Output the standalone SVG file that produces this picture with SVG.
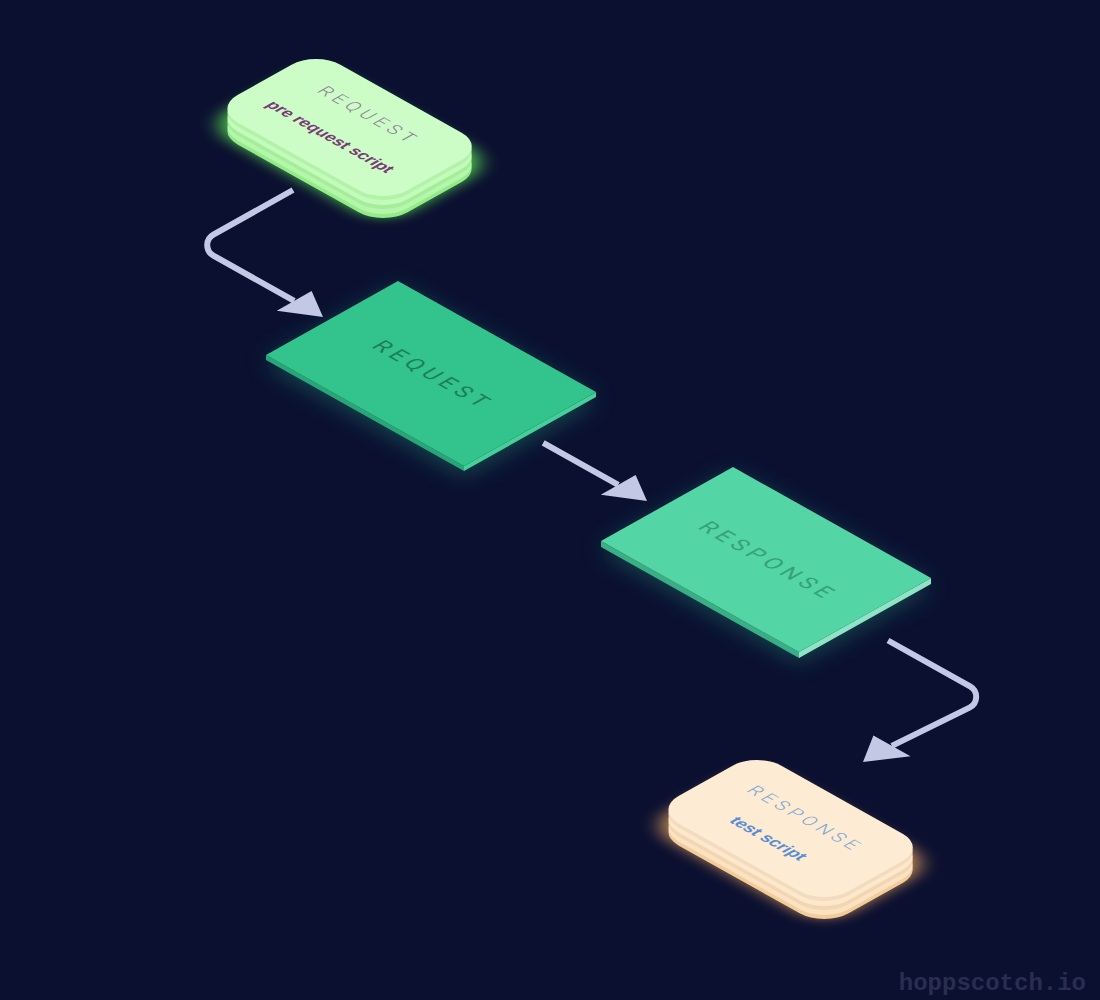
<svg xmlns="http://www.w3.org/2000/svg" xmlns:xlink="http://www.w3.org/1999/xlink" width="1100" height="1000" viewBox="0 0 1100 1000">
<style>
.bg{fill:#0b1030}
.conn{fill:none;stroke:#c3c9e4;stroke-width:6;stroke-linecap:butt;stroke-linejoin:round}
.head{fill:#c3c9e4}
.slabtxt{font-family:Roboto,"Liberation Sans",sans-serif;font-size:22px;font-weight:400;letter-spacing:5px;text-anchor:middle}
.cardtitle{font-family:Roboto,"Liberation Sans",sans-serif;font-size:18px;font-weight:300;letter-spacing:4.5px;text-anchor:middle}
.cardsub{font-family:"Liberation Sans",Arial,sans-serif;font-size:16.5px;font-weight:700;text-anchor:middle}
.mark{font-family:"Liberation Mono","DejaVu Sans Mono",monospace;font-size:24px;font-weight:700;fill:#2a2e4e;text-anchor:end}
</style>
<defs>
<rect id="card" width="195" height="118" rx="28" ry="28"/>
<rect id="cardGlow" x="-6" y="-6" width="207" height="130" rx="32" ry="32"/>
<filter id="blur" x="-40%" y="-40%" width="180%" height="180%"><feGaussianBlur stdDeviation="8"/></filter>
<filter id="blurS" x="-40%" y="-40%" width="180%" height="180%"><feGaussianBlur stdDeviation="12"/></filter>
</defs>
<rect class="bg" x="0" y="0" width="1100" height="1000"/>

<g id="node-pre-request">
<use href="#cardGlow" transform="translate(0,16) matrix(0.872 0.489 -0.872 0.489 316 51)" fill="#5fe657" opacity="0.8" filter="url(#blur)"/>
<use href="#card" transform="translate(0,22) matrix(0.872 0.489 -0.872 0.489 316 51)" fill="#94ec88"/>
<use href="#card" transform="translate(0,18) matrix(0.872 0.489 -0.872 0.489 316 51)" fill="#b6f6ac"/>
<use href="#card" transform="translate(0,13) matrix(0.872 0.489 -0.872 0.489 316 51)" fill="#a4ee99"/>
<use href="#card" transform="translate(0,9) matrix(0.872 0.489 -0.872 0.489 316 51)" fill="#c4fbbd"/>
<use href="#card" transform="translate(0,4) matrix(0.872 0.489 -0.872 0.489 316 51)" fill="#b2f2a9"/>
<use href="#card" transform="matrix(0.872 0.489 -0.872 0.489 316 51)" fill="#cdfdc7"/>
<g transform="matrix(0.872 0.489 -0.872 0.489 316 51)">
<text class="cardtitle" x="96" y="41.5" fill="#8c7e9a">REQUEST</text>
<text class="cardsub" x="96" y="85" fill="#7a3a78">pre request script</text>
</g>
</g>

<g id="node-request">
<polygon points="398,289 596,400 464,474 266,363" fill="#1b7a6c" opacity="0.6" filter="url(#blurS)"/>
<polygon points="266,355 464,466 464,471 266,360" fill="#29a678"/>
<polygon points="464,466 596,392 596,397 464,471" fill="#45cf99"/>
<polygon points="398,281 596,392 464,466 266,355" fill="#32c48c"/>
<text class="slabtxt" transform="matrix(0.872 0.489 -0.872 0.489 398 281)" x="116" y="83" fill="#1f7e58">REQUEST</text>
</g>

<g id="node-response">
<polygon points="733,475 931,586 799,660 601,549" fill="#1b7a6c" opacity="0.6" filter="url(#blurS)"/>
<polygon points="601,541 799,652 799,658 601,547" fill="#3aae85"/>
<polygon points="799,652 931,578 931,584 799,658" fill="#8ee4c4"/>
<polygon points="733,467 931,578 799,652 601,541" fill="#53d5a5"/>
<text class="slabtxt" transform="matrix(0.872 0.489 -0.872 0.489 733 467)" x="116" y="83" fill="#36a27b">RESPONSE</text>
</g>

<g id="node-test-script">
<use href="#cardGlow" transform="translate(0,16) matrix(0.872 0.489 -0.872 0.489 757 752)" fill="#f0a860" opacity="0.75" filter="url(#blur)"/>
<use href="#card" transform="translate(0,22) matrix(0.872 0.489 -0.872 0.489 757 752)" fill="#f3cc9c"/>
<use href="#card" transform="translate(0,18) matrix(0.872 0.489 -0.872 0.489 757 752)" fill="#fbe2c2"/>
<use href="#card" transform="translate(0,13) matrix(0.872 0.489 -0.872 0.489 757 752)" fill="#f2d6b2"/>
<use href="#card" transform="translate(0,9) matrix(0.872 0.489 -0.872 0.489 757 752)" fill="#fde8cd"/>
<use href="#card" transform="translate(0,4) matrix(0.872 0.489 -0.872 0.489 757 752)" fill="#f2dcbd"/>
<use href="#card" transform="matrix(0.872 0.489 -0.872 0.489 757 752)" fill="#fdebd3"/>
<g transform="matrix(0.872 0.489 -0.872 0.489 757 752)">
<text class="cardtitle" x="96" y="46.5" fill="#7ea5d4">RESPONSE</text>
<text class="cardsub" x="95" y="87.5" fill="#5a8ed2" style="font-size:17px">test script</text>
</g>
</g>

<g id="connectors">
<path class="conn" d="M293,190 L213.4,234.6 A12,12 0 0 0 213.4,255.6 L294.2,300.9"/>
<polygon class="head" points="323,317 276.8,310.7 311.6,291.1"/>
<path class="conn" d="M543.2,442.8 L618.2,484.9"/>
<polygon class="head" points="647,501 600.8,494.7 635.6,475.1"/>
<path class="conn" d="M888,640.5 L970.1,686.4 A12,12 0 0 1 969.5,707.6 L891.8,745.9"/>
<polygon class="head" points="863,762 910.5,756.2 873.4,735.6"/>
</g>

<text class="mark" x="1086" y="990">hoppscotch.io</text>
</svg>
